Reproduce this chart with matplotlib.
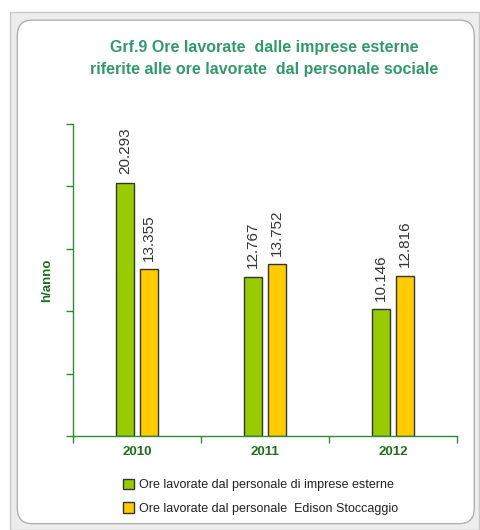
import matplotlib as mpl
mpl.use('Agg')
import matplotlib.pyplot as plt
from matplotlib.patches import FancyBboxPatch, Rectangle
import numpy as np

plt.rcParams['font.family'] = ['Liberation Sans', 'DejaVu Sans']

years = ['2010', '2011', '2012']
esterne = [20293, 12767, 10146]
edison = [13355, 13752, 12816]
labels_esterne = ['20.293', '12.767', '10.146']
labels_edison = ['13.355', '13.752', '12.816']
series_names = ['Ore lavorate dal personale di imprese esterne',
                'Ore lavorate dal personale  Edison Stoccaggio']

green_axis = '#2E8B2E'
title_green = '#33996B'

fig = plt.figure(figsize=(4.81, 5.30), dpi=100)

# outer frame
fig.patches.append(Rectangle((0.02, 0.0), 0.976, 0.978, transform=fig.transFigure,
                             facecolor='#EDEDED', edgecolor='#C8C8C8', lw=1, zorder=-3))
fig.patches.append(FancyBboxPatch((0.036, 0.012), 0.95, 0.95, transform=fig.transFigure,
                                  boxstyle='round,pad=0,rounding_size=0.03',
                                  facecolor='white', edgecolor='#B0B0B0', lw=1, zorder=-2))

ax = fig.add_axes([0.152, 0.177, 0.798, 0.589])
x = np.arange(len(years))
w = 0.135
off = 0.094
b1 = ax.bar(x - off, esterne, w, color='#99CC00', edgecolor='#333333', lw=1, label=series_names[0])
b2 = ax.bar(x + off, edison, w, color='#FFCC00', edgecolor='#333333', lw=1, label=series_names[1])

for bars, labs in ((b1, labels_esterne), (b2, labels_edison)):
    for rect, lab in zip(bars, labs):
        ax.text(rect.get_x() + rect.get_width() / 2, rect.get_height() + 700, lab,
                rotation=90, ha='center', va='bottom', fontsize=11, color='#333333')

ax.set_xlim(-0.5, 2.5)
ax.set_ylim(0, 25000)
ax.set_yticks(np.arange(0, 25001, 5000))
ax.set_yticklabels([])
ax.set_xticks([-0.5, 0.5, 1.5, 2.5])
ax.set_xticklabels([])
ax.tick_params(axis='both', direction='out', length=5, color=green_axis, width=1)
for s in ('top', 'right'):
    ax.spines[s].set_visible(False)
for s in ('left', 'bottom'):
    ax.spines[s].set_color(green_axis)
    ax.spines[s].set_linewidth(1)

for i, y in enumerate(years):
    ax.text(i, -1300, y, ha='center', va='center', fontsize=9.5, fontweight='bold', color='#1F6F1F')

ax.set_ylabel('h/anno', fontsize=9.5, fontweight='bold', color='#1F6F1F', labelpad=6)

fig.text(0.55, 0.89, 'Grf.9 Ore lavorate  dalle imprese esterne\nriferite alle ore lavorate  dal personale sociale',
         ha='center', va='center', fontsize=11.5, fontweight='bold', color=title_green, linespacing=1.6)

ax.legend(loc='upper left', bbox_to_anchor=(0.1, -0.1), frameon=False, fontsize=9,
          handlelength=0.9, handleheight=0.9, handletextpad=0.4, labelspacing=0.9, labelcolor='#222222')

fig.savefig('out.png', dpi=100)
